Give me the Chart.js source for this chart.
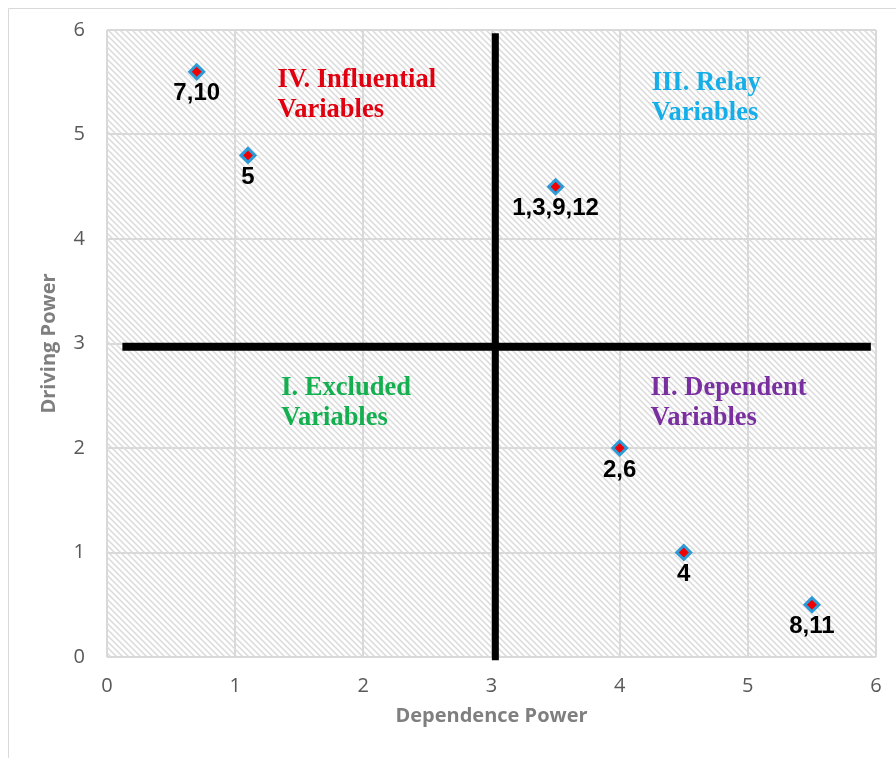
<!DOCTYPE html>
<html>
<head>
<meta charset="utf-8">
<script src="https://cdn.jsdelivr.net/npm/chart.js@4.4.0/dist/chart.umd.min.js"></script>
<style>
  html, body { margin: 0; padding: 0; background: #fff; }
  #wrap { width: 896px; height: 758px; }
</style>
</head>
<body>
<div id="wrap"><canvas id="mic-chart" width="896" height="758"></canvas></div>
<script>
// variables (groups) and their MICMAC positions
var pointLabels = ["7,10", "5", "1,3,9,12", "2,6", "4", "8,11"];
var dependence = [0.7, 1.1, 3.5, 4.0, 4.5, 5.5];
var driving = [5.6, 4.8, 4.5, 2.0, 1.0, 0.5];

// quadrant dividers
var hLineX = [0.12, 5.96];
var hLineY = [2.97, 2.97];
var vLineX = [3.03, 3.03];
var vLineY = [5.97, -0.03];

var xTicks = [0, 1, 2, 3, 4, 5, 6];
var yTicks = [0, 1, 2, 3, 4, 5, 6];

var quadrantNames = [
  ["IV. Influential", "Variables"],
  ["III. Relay", "Variables"],
  ["I. Excluded", "Variables"],
  ["II. Dependent", "Variables"]
];
var quadrantX = [1.33, 4.25, 1.36, 4.24];
var quadrantY = [5.52, 5.49, 2.57, 2.57];
var quadrantColors = ["#e0000f", "#16aee8", "#14b050", "#7a2fa0"];

function toPoints(xs, ys){
  var out = [];
  for(var i = 0; i < xs.length; i++) out.push({x: xs[i], y: ys[i]});
  return out;
}

var hatch = (function(){
  var c = document.createElement("canvas");
  c.width = 6; c.height = 6;
  var g = c.getContext("2d");
  g.fillStyle = "#ffffff";
  g.fillRect(0, 0, 6, 6);
  g.strokeStyle = "#dadada";
  g.lineWidth = 1.5;
  g.beginPath();
  g.moveTo(-1, -1); g.lineTo(7, 7);
  g.moveTo(-1, 5); g.lineTo(1, 7);
  g.moveTo(5, -1); g.lineTo(7, 1);
  g.stroke();
  return g.createPattern(c, "repeat");
})();

var micPlugin = {
  id: "mic",
  beforeDraw: function(chart){
    var ctx = chart.ctx, a = chart.chartArea;
    ctx.save();
    ctx.fillStyle = "#fff";
    ctx.fillRect(0, 0, chart.width, chart.height);
    ctx.strokeStyle = "#d9d9d9";
    ctx.lineWidth = 1;
    ctx.beginPath();
    ctx.moveTo(8.5, chart.height + 2);
    ctx.lineTo(8.5, 8.5);
    ctx.lineTo(chart.width + 2, 8.5);
    ctx.stroke();
    ctx.fillStyle = hatch;
    ctx.fillRect(a.left, a.top, a.right - a.left, a.bottom - a.top);
    ctx.restore();
  },
  afterDatasetsDraw: function(chart){
    var ctx = chart.ctx;
    var xs = chart.scales.x, ys = chart.scales.y;
    ctx.save();
    ctx.textAlign = "left";
    ctx.textBaseline = "middle";
    ctx.font = "bold 26.5px 'Liberation Serif'";
    for(var q = 0; q < quadrantNames.length; q++){
      ctx.fillStyle = quadrantColors[q];
      var px = xs.getPixelForValue(quadrantX[q]);
      var py = ys.getPixelForValue(quadrantY[q]);
      for(var l = 0; l < quadrantNames[q].length; l++){
        ctx.fillText(quadrantNames[q][l], px, py + l * 30);
      }
    }
    ctx.textAlign = "center";
    ctx.fillStyle = "#000";
    ctx.font = "bold 24px 'Liberation Sans'";
    for(var i = 0; i < pointLabels.length; i++){
      ctx.fillText(pointLabels[i], xs.getPixelForValue(dependence[i]), ys.getPixelForValue(driving[i]) + 22);
    }
    ctx.restore();
  }
};

function createChart(){
  var ctx = document.getElementById("mic-chart").getContext("2d");
  window.micChart = new Chart(ctx, {
    type: "scatter",
    data: {
      datasets: [{
        data: toPoints(hLineX, hLineY),
        showLine: true,
        borderColor: "#000",
        borderWidth: 8,
        pointRadius: 0,
        clip: false
      }, {
        data: toPoints(vLineX, vLineY),
        showLine: true,
        borderColor: "#000",
        borderWidth: 7,
        pointRadius: 0,
        clip: false
      }, {
        data: toPoints(dependence, driving),
        pointStyle: "rectRot",
        pointRadius: 7,
        pointBorderWidth: 3,
        pointBackgroundColor: "#f00000",
        pointBorderColor: "#2e9ad6"
      }]
    },
    options: {
      responsive: false,
      animation: false,
      layout: { padding: { left: 0, right: 20, top: 30, bottom: 0 } },
      plugins: { legend: { display: false }, tooltip: { enabled: false } },
      scales: {
        x: {
          type: "linear",
          min: 0, max: 6,
          afterFit: function(s){ s.height = 101; s.paddingLeft = 0; s.paddingRight = 0; },
          afterBuildTicks: function(s){ s.ticks = xTicks.map(function(v){ return {value: v}; }); },
          grid: { color: "#d9d9d9", lineWidth: 2, drawTicks: false },
          border: { display: false },
          ticks: { padding: 17, color: "#595959", font: { family: "'Open Sans'", size: 20 } },
          title: { display: true, text: "Dependence Power", color: "#7f7f7f", padding: { top: 0, bottom: 30 },
                   font: { family: "'Open Sans'", size: 20, weight: "bold" } }
        },
        y: {
          type: "linear",
          min: 0, max: 6,
          afterFit: function(s){ s.width = 107; s.paddingTop = 0; s.paddingBottom = 0; },
          afterBuildTicks: function(s){ s.ticks = yTicks.map(function(v){ return {value: v}; }); },
          grid: { color: "#d9d9d9", lineWidth: 2, drawTicks: false },
          border: { display: false },
          ticks: { padding: 22, color: "#595959", font: { family: "'Open Sans'", size: 20 } },
          title: { display: true, text: "Driving Power", color: "#7f7f7f", padding: { top: 37, bottom: 0 },
                   font: { family: "'Open Sans'", size: 20, weight: "bold" } }
        }
      }
    },
    plugins: [micPlugin]
  });
}

createChart();
</script>
</body>
</html>
